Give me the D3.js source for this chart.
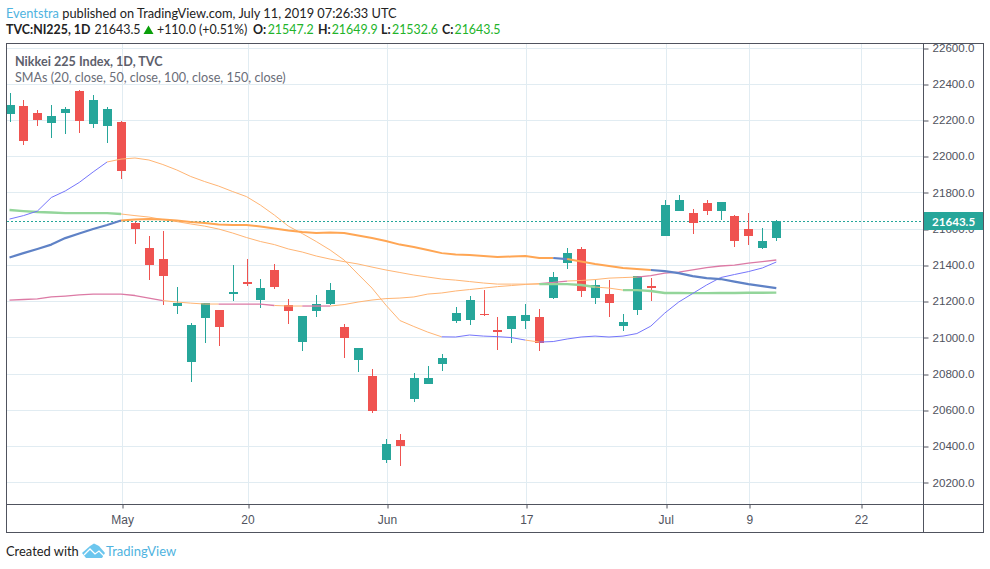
<!DOCTYPE html>
<html>
<head>
<meta charset="utf-8">
<script src="https://cdn.jsdelivr.net/npm/d3@7"></script>
<style>
  body { margin: 0; background: #fff; }
  svg { display: block; font-family: Lato, sans-serif; }
</style>
</head>
<body>
<div id="chart"></div>
<script>
// daily candles
var opens = [22234,22277,22238,22185,22240,22360,22179,22168,22189,21631,21493,21432,21175,20865,21108,21151,21241,21305,21208,21372,21178,20976,21147,21184,21057,20876,20787,20323,20433,20660,20742,20853,21090,21096,21129,21040,21046,21090,21112,21217,21410,21487,21217,21239,21062,21151,21283,21559,21697,21686,21741,21697,21670,21598,21493,21547.2];
var highs = [22347,22310,22253,22282,22270,22365,22338,22270,22194,21637,21559,21587,21278,21079,21189,21151,21399,21432,21322,21405,21212,21118,21234,21300,21073,20941,20825,20439,20466,20803,20842,20908,21168,21228,21261,21112,21118,21184,21156,21361,21493,21499,21316,21316,21129,21338,21327,21758,21786,21708,21758,21747,21675,21686,21603,21649.9];
var lows = [22190,22062,22168,22102,22124,22129,22157,22074,21876,21517,21318,21178,21130,20756,20970,20954,21200,21283,21164,21268,21075,20926,21114,21178,20887,20810,20584,20308,20290,20645,20742,20814,21079,21068,21118,20930,20969,21046,20925,21212,21377,21223,21184,21112,21035,21123,21200,21559,21697,21570,21675,21648,21499,21510,21488,21532.6];
var closes = [22282,22085,22201,22222,22260,22196,22310,22260,21920,21600,21401,21340,21189,21068,21189,21059,21250,21296,21272,21279,21147,21118,21184,21261,20998,20941,20595,20411,20400,20775,20775,20886,21134,21206,21123,21029,21118,21123,20969,21333,21465,21256,21289,21189,21085,21338,21272,21730,21758,21631,21697,21747,21532,21559,21532,21643.5];

// moving averages, one value per candle
var sma20 = [21653,21672,21697,21772,21808,21855,21913,21968,21984,21990,21979,21954,21924,21888,21860,21835,21805,21777,21730,21675,21614,21573,21529,21482,21427,21349,21272,21178,21093,21060,21029,21003,21002,21013,21007,21004,20999,20985,20974,20977,20991,21002,21007,21002,21007,21021,21062,21134,21195,21242,21289,21330,21347,21363,21383,21416];
var sma50 = [21206,21209,21212,21223,21228,21234,21239,21239,21239,21231,21217,21203,21195,21189,21184,21184,21184,21184,21184,21176,21173,21173,21173,21173,21181,21195,21206,21214,21217,21223,21239,21245,21256,21264,21272,21280,21286,21292,21297,21303,21311,21314,21319,21327,21330,21333,21341,21355,21360,21372,21385,21394,21399,21410,21418,21427];
var sma100 = [21703,21697,21692,21689,21686,21686,21686,21686,21681,21672,21664,21650,21639,21626,21614,21598,21576,21551,21529,21512,21488,21471,21449,21432,21418,21405,21388,21372,21358,21344,21333,21322,21316,21308,21300,21294,21294,21294,21294,21294,21294,21289,21278,21272,21261,21261,21256,21245,21245,21244,21244,21245,21245,21246,21246,21247];
var sma150 = [21441,21465,21488,21512,21548,21573,21598,21620,21645,21650,21653,21650,21645,21637,21631,21623,21620,21620,21612,21601,21590,21581,21576,21579,21576,21562,21548,21532,21512,21499,21482,21465,21457,21454,21449,21443,21446,21449,21438,21438,21432,21419,21405,21394,21383,21377,21372,21366,21355,21338,21327,21322,21308,21294,21283,21272];

// where each average changes colour: [from candle, to candle, colour, width]
var orangeThin = "#ffb574", orangeWide = "#ffa654";
var sma20Runs = [[0,7,"#7575fb",1],[7,31,orangeThin,1],[31,37,"#7575fb",1],[37,38,orangeThin,1],[38,55,"#7575fb",1]];
var sma50Runs = [[0,11,"#dc7aa5",1.3],[11,15,orangeThin,1],[15,19,"#dc7aa5",1.3],[19,21,orangeThin,1],[21,23,"#dc7aa5",1.3],[23,38,orangeThin,1],[38,40,"#dc7aa5",1.3],[40,45,orangeThin,1],[45,55,"#dc7aa5",1.3]];
var sma100Runs = [[0,8,"#93d59a",2.4],[8,38,orangeThin,1],[38,42,"#93d59a",2.4],[42,44,orangeThin,1],[44,55,"#93d59a",2.4]];
var sma150Runs = [[0,8,"#5f82c6",2.2],[8,39,orangeWide,2],[39,40,"#5f82c6",2.2],[40,46,orangeWide,2],[46,55,"#5f82c6",2.2]];

var priceTicks = [20200,20400,20600,20800,21000,21200,21400,21600,21800,22000,22200,22400,22600];
var timeTicks = [8,17,27,37,47,53,61];
var timeLabels = ["May","20","Jun","17","Jul","9","22"];
var lastClose = 21643.5;

var width = 990, height = 569;
var pane = {left: 7, right: 923, top: 44, bottom: 504};
var frame = {left: 6.5, right: 983.5, top: 43.5, bottom: 532.5};

var upColor = "#26a69a", downColor = "#ef5350";
var gridColor = "#e1ecf2", axisColor = "#50535e", textColor = "#50535e";

var x = d3.scaleLinear().domain([0,55]).range([9.5,776.3]);
var y = d3.scaleLinear().domain([20200,22600]).range([482.3,47.5]);

var svg = d3.select("#chart").append("svg")
  .attr("width", width)
  .attr("height", height);

var defs = svg.append("defs");
defs.append("clipPath").attr("id","pane-clip").append("rect")
  .attr("x",pane.left).attr("y",pane.top)
  .attr("width",pane.right-pane.left).attr("height",pane.bottom-pane.top);
defs.append("clipPath").attr("id","axis-clip").append("rect")
  .attr("x",pane.right).attr("y",pane.top)
  .attr("width",frame.right-pane.right).attr("height",pane.bottom-pane.top);

// header
var head1 = svg.append("text").attr("x",6).attr("y",17.5).attr("font-size",12.8).attr("fill","#222");
head1.append("tspan").attr("fill","#4fb3e0").text("Eventstra");
head1.append("tspan").text(" published on TradingView.com, July 11, 2019 07:26:33 UTC");

var headPieces = [
  {x:6, t:"TVC:NI225, 1D", bold:true},
  {x:94.5, t:"21643.5"},
  {x:157, t:"+110.0 (+0.51%)"},
  {x:253, t:"O:", bold:true},
  {x:267.7, t:"21547.2", green:true},
  {x:318, t:"H:", bold:true},
  {x:331.7, t:"21649.9", green:true},
  {x:381, t:"L:", bold:true},
  {x:392, t:"21532.6", green:true},
  {x:442, t:"C:", bold:true},
  {x:454.5, t:"21643.5", green:true}
];
svg.append("g").selectAll("text").data(headPieces).enter().append("text")
  .attr("x",function(d){ return d.x; })
  .attr("y",34)
  .attr("font-size",12.4)
  .attr("font-weight",function(d){ return d.bold ? 700 : 400; })
  .attr("fill",function(d){ return d.green ? "#22b32a" : "#222"; })
  .text(function(d){ return d.t; });
svg.append("path").attr("d","M143.5,34L148.5,25.5L153.5,34Z").attr("fill","#0a9f0a");

// grid
var grid = svg.append("g").attr("clip-path","url(#pane-clip)");
grid.selectAll(".gx").data(timeTicks).enter().append("line")
  .attr("x1",function(d){ return Math.round(x(d))+1.5; })
  .attr("x2",function(d){ return Math.round(x(d))+1.5; })
  .attr("y1",pane.top).attr("y2",pane.bottom)
  .attr("stroke",gridColor);
grid.selectAll(".gy").data(priceTicks).enter().append("line")
  .attr("x1",pane.left).attr("x2",pane.right)
  .attr("y1",function(d){ return Math.round(y(d))+0.5; })
  .attr("y2",function(d){ return Math.round(y(d))+0.5; })
  .attr("stroke",gridColor);

// last price line
svg.append("line")
  .attr("x1",pane.left).attr("x2",pane.right)
  .attr("y1",Math.round(y(lastClose))+0.5).attr("y2",Math.round(y(lastClose))+0.5)
  .attr("stroke",upColor)
  .attr("stroke-dasharray","2,2");

var plot = svg.append("g").attr("clip-path","url(#pane-clip)");

// candles
var candles = plot.selectAll(".candle").data(opens).enter().append("g").attr("class","candle");
function candleColor(o,i){ return closes[i] >= o ? upColor : downColor; }
candles.append("line")
  .attr("x1",function(o,i){ return Math.round(x(i))+0.5; })
  .attr("x2",function(o,i){ return Math.round(x(i))+0.5; })
  .attr("y1",function(o,i){ return y(highs[i]); })
  .attr("y2",function(o,i){ return y(lows[i]); })
  .attr("stroke",candleColor)
  .attr("shape-rendering","crispEdges");
candles.append("rect")
  .attr("x",function(o,i){ return Math.round(x(i))-4; })
  .attr("width",9)
  .attr("y",function(o,i){ return y(Math.max(o,closes[i])); })
  .attr("height",function(o,i){ return Math.max(1,Math.abs(y(o)-y(closes[i]))); })
  .attr("fill",candleColor)
  .attr("shape-rendering","crispEdges");

// moving averages, one path per colour run
function drawAverage(values, runs) {
  var line = d3.line()
    .x(function(d){ return x(d); })
    .y(function(d){ return y(values[d]); });
  runs.forEach(function(run){
    plot.append("path")
      .attr("d",line(d3.range(run[0],run[1]+1)))
      .attr("fill","none")
      .attr("stroke",run[2])
      .attr("stroke-width",run[3])
      .attr("stroke-linejoin","round");
  });
}
drawAverage(sma50, sma50Runs);
drawAverage(sma100, sma100Runs);
drawAverage(sma20, sma20Runs);
drawAverage(sma150, sma150Runs);

// legend
svg.append("text").attr("x",15).attr("y",65.5).attr("font-size",12.6).attr("font-weight",700)
  .attr("fill","#5d606b").text("Nikkei 225 Index, 1D, TVC");
svg.append("text").attr("x",15).attr("y",82).attr("font-size",12.6)
  .attr("fill","#6a6d78").text("SMAs (20, close, 50, close, 100, close, 150, close)");

// axes
var yAxis = d3.axisRight(y).tickValues(priceTicks).tickSize(5).tickPadding(4)
  .tickFormat(function(d){ return d3.format(".1f")(d); });
var yAxisG = svg.append("g").attr("clip-path","url(#axis-clip)")
  .append("g").attr("transform","translate("+pane.right+".5,0)")
  .call(yAxis);
yAxisG.select(".domain").remove();
yAxisG.selectAll("line").attr("stroke",axisColor)
  .attr("transform",function(d){ return "translate(0,"+(Math.round(y(d))+0.5-y(d))+")"; });
yAxisG.selectAll("text").attr("font-family","inherit").attr("font-size",11.6).attr("fill",textColor);

var xAxis = d3.axisBottom(x).tickValues(timeTicks).tickSize(4).tickPadding(7)
  .tickFormat(function(d,i){ return timeLabels[i]; });
var xAxisG = svg.append("g").attr("transform","translate(1,"+pane.bottom+".5)").call(xAxis);
xAxisG.select(".domain").remove();
xAxisG.selectAll("line").attr("stroke",axisColor)
  .attr("transform",function(d){ return "translate("+(Math.round(x(d))+0.5-x(d))+",0)"; });
xAxisG.selectAll("text").attr("font-family","inherit").attr("font-size",12).attr("fill",textColor);

// last price label
var labelY = Math.round(y(lastClose));
svg.append("rect").attr("x",pane.right).attr("y",labelY-9)
  .attr("width",frame.right-pane.right).attr("height",18)
  .attr("fill",upColor);
svg.append("text").attr("x",932).attr("y",labelY+4.5)
  .attr("font-size",11.6).attr("font-weight",700).attr("fill","#fff")
  .text(d3.format(".1f")(lastClose));

// frame
svg.append("rect")
  .attr("x",frame.left).attr("y",frame.top)
  .attr("width",frame.right-frame.left).attr("height",frame.bottom-frame.top)
  .attr("fill","none").attr("stroke",axisColor);
svg.append("line").attr("x1",frame.left).attr("x2",frame.right)
  .attr("y1",pane.bottom+0.5).attr("y2",pane.bottom+0.5).attr("stroke",axisColor);
svg.append("line").attr("x1",pane.right+0.5).attr("x2",pane.right+0.5)
  .attr("y1",frame.top).attr("y2",frame.bottom).attr("stroke",axisColor);

// footer
svg.append("text").attr("x",6).attr("y",556).attr("font-size",12.9).attr("fill","#222").text("Created with");
svg.append("path")
  .attr("d","M82,553L90,546L94,543.5L99,546L105,553L102,558L86,558Z")
  .attr("fill","#6cc6ee");
svg.append("path")
  .attr("d","M84,555L90,549L95,554L99,551L104,556")
  .attr("fill","none").attr("stroke","#fff").attr("stroke-width",1.3);
svg.append("text").attr("x",106).attr("y",556).attr("font-size",13).attr("fill","#4fb3e0").text("TradingView");
</script>
</body>
</html>
